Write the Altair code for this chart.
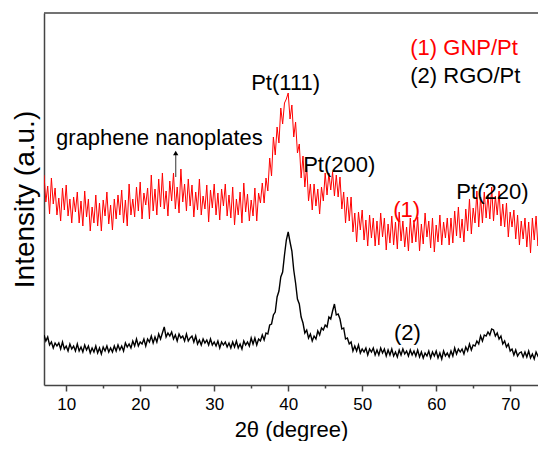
import altair as alt
import pandas as pd

# Intensity (a.u.) sampled every 0.25 degree from 7.00 to 74.75
gnp_pt = [
    210, 183, 199, 171, 207, 181, 197, 170, 187, 164, 197, 175, 200, 169, 186, 162, 188, 173, 193, 162,
    184, 159, 194, 168, 186, 154, 178, 162, 190, 159, 182, 154, 185, 169, 193, 161, 180, 155, 186, 166,
    190, 170, 195, 162, 185, 159, 201, 170, 186, 168, 198, 174, 203, 166, 192, 180, 197, 166, 210, 174,
    196, 170, 206, 178, 212, 176, 194, 169, 204, 184, 212, 176, 198, 172, 216, 183, 201, 174, 206, 179,
    200, 168, 193, 175, 206, 170, 189, 176, 200, 163, 195, 177, 201, 170, 192, 165, 196, 179, 201, 169,
    190, 167, 198, 160, 186, 170, 193, 162, 202, 173, 191, 164, 185, 169, 197, 164, 192, 182, 202, 182,
    207, 194, 227, 209, 248, 230, 258, 242, 277, 261, 282, 286, 292, 266, 280, 248, 263, 232, 241, 207,
    229, 198, 219, 184, 201, 175, 201, 179, 196, 171, 198, 184, 212, 190, 212, 195, 213, 189, 210, 188,
    208, 176, 193, 162, 188, 164, 188, 153, 172, 143, 173, 155, 175, 145, 165, 139, 170, 147, 167, 139,
    164, 140, 172, 148, 167, 135, 161, 142, 169, 140, 163, 136, 173, 144, 164, 138, 158, 134, 167, 142,
    165, 143, 168, 134, 161, 141, 172, 148, 164, 137, 167, 133, 160, 143, 170, 140, 163, 147, 167, 140,
    167, 142, 174, 149, 178, 147, 166, 143, 176, 154, 186, 151, 177, 162, 194, 158, 188, 162, 193, 167,
    190, 166, 198, 164, 189, 170, 194, 159, 181, 158, 182, 148, 173, 158, 175, 146, 170, 140, 164, 146,
    167, 138, 163, 132, 167, 145, 169, 139, 159, 137, 162, 149,
]
rgo_pt = [
    50, 44, 48, 40, 43, 37, 42, 39, 42, 36, 43, 36, 39, 34, 41, 36, 39, 34, 41, 34,
    38, 33, 40, 35, 39, 32, 37, 33, 39, 32, 37, 31, 38, 34, 39, 33, 37, 33, 39, 34,
    40, 35, 39, 34, 42, 38, 41, 37, 44, 39, 46, 39, 43, 41, 46, 39, 46, 43, 49, 42,
    48, 43, 51, 46, 52, 58, 48, 52, 49, 53, 46, 50, 44, 51, 47, 49, 44, 51, 44, 47,
    49, 43, 49, 41, 45, 40, 46, 42, 45, 40, 46, 40, 43, 39, 44, 37, 43, 40, 43, 38,
    42, 37, 43, 38, 44, 37, 41, 36, 44, 40, 43, 39, 47, 41, 47, 40, 46, 44, 50, 45,
    52, 51, 60, 61, 70, 73, 88, 94, 108, 113, 130, 145, 153, 143, 134, 115, 102, 86, 81, 68,
    62, 52, 55, 47, 51, 44, 49, 46, 54, 50, 57, 55, 60, 58, 68, 66, 74, 81, 70, 71,
    66, 56, 57, 46, 47, 41, 43, 34, 39, 34, 40, 32, 36, 33, 37, 30, 36, 33, 37, 30,
    35, 30, 37, 32, 36, 29, 35, 30, 36, 29, 33, 28, 35, 30, 36, 31, 34, 29, 35, 30,
    34, 29, 35, 28, 33, 27, 32, 29, 34, 27, 33, 29, 34, 27, 32, 26, 34, 29, 32, 28,
    34, 29, 37, 31, 36, 33, 36, 31, 38, 34, 41, 35, 40, 39, 44, 41, 49, 44, 50, 49,
    53, 50, 56, 55, 49, 52, 46, 49, 41, 44, 38, 41, 34, 36, 30, 35, 29, 32, 33, 28,
    33, 28, 34, 27, 31, 26, 33, 29, 32, 27, 34, 29,
]
two_theta = [round(7 + 0.25 * i, 2) for i in range(len(gnp_pt))]

x_ticks = [10, 15, 20, 25, 30, 35, 40, 45, 50, 55, 60, 65, 70]

# annotations
legend_text = ["(1) GNP/Pt", "(2) RGO/Pt"]
legend_x = [56.5, 56.5]
legend_y = [337, 309]
legend_color = ["#ff0000", "#000000"]

note_text = ["Pt(111)", "graphene nanoplates", "Pt(200)", "Pt(220)", "(1)", "(2)"]
note_x = [39.65, 22.6, 46.9, 67.6, 56.0, 56.1]
note_y = [302, 247, 220, 193, 175, 52]
note_color = ["#000000", "#000000", "#000000", "#000000", "#ff0000", "#000000"]

arrow_x = [24.8]
arrow_y = [208]
arrow_y2 = [232]

FONT = "Liberation Sans"

df = pd.DataFrame({
    "two_theta": two_theta * 2,
    "intensity": gnp_pt + rgo_pt,
    "sample": ["(1) GNP/Pt"] * len(gnp_pt) + ["(2) RGO/Pt"] * len(rgo_pt),
})
legend_df = pd.DataFrame({"x": legend_x, "y": legend_y, "text": legend_text, "color": legend_color})
note_df = pd.DataFrame({"x": note_x, "y": note_y, "text": note_text, "color": note_color})
arrow_df = pd.DataFrame({"x": arrow_x, "y": arrow_y, "y2": arrow_y2})
frame_df = pd.DataFrame({"edge": ["top"]})

xscale = alt.Scale(domain=[7, 73.76], nice=False, zero=False)
yscale = alt.Scale(domain=[0, 372], nice=False, zero=False)

lines = alt.Chart(df).mark_line(interpolate="linear", clip=True).encode(
    x=alt.X("two_theta:Q", scale=xscale,
            axis=alt.Axis(values=x_ticks, grid=False, title="2θ (degree)",
                          labelExpr="datum.value % 10 === 0 ? datum.label : ''",
                          tickSize=6,
                          tickDash={"condition": {"test": "datum.value % 10 !== 0", "value": [3, 10]},
                                    "value": [6, 0]},
                          labelFontSize=17, labelPadding=5,
                          titleFontSize=22, titleY=51, titleBaseline="alphabetic")),
    y=alt.Y("intensity:Q", scale=yscale,
            axis=alt.Axis(labels=False, ticks=False, grid=False, title="Intensity (a.u.)",
                          titleFontSize=28, titlePadding=5)),
    color=alt.Color("sample:N", scale=alt.Scale(domain=["(1) GNP/Pt", "(2) RGO/Pt"],
                                                range=["#ff0000", "#000000"]), legend=None),
    strokeWidth=alt.StrokeWidth("sample:N", scale=alt.Scale(domain=["(1) GNP/Pt", "(2) RGO/Pt"],
                                                            range=[1.0, 1.4]), legend=None),
    detail="sample:N",
)

top_border = alt.Chart(frame_df).mark_rule(color="#444444", strokeWidth=1.5).encode(
    y=alt.value(0),
)

legend_layer = alt.Chart(legend_df).mark_text(align="left", baseline="middle", fontSize=22, font=FONT).encode(
    x=alt.X("x:Q", scale=xscale),
    y=alt.Y("y:Q", scale=yscale),
    text="text:N",
    color=alt.Color("color:N", scale=None),
)

notes = alt.Chart(note_df).mark_text(align="center", baseline="middle", fontSize=22, font=FONT).encode(
    x=alt.X("x:Q", scale=xscale),
    y=alt.Y("y:Q", scale=yscale),
    text="text:N",
    color=alt.Color("color:N", scale=None),
)

arrow_shaft = alt.Chart(arrow_df).mark_rule(color="#555555", strokeWidth=1.2).encode(
    x=alt.X("x:Q", scale=xscale),
    y=alt.Y("y:Q", scale=yscale),
    y2="y2:Q",
)
arrow_head = alt.Chart(arrow_df).mark_point(shape="triangle-up", filled=True, color="#000000",
                                             size=28, opacity=1).encode(
    x=alt.X("x:Q", scale=xscale),
    y=alt.Y("y2:Q", scale=yscale),
)

chart = alt.layer(lines, top_border, legend_layer, notes, arrow_shaft, arrow_head).properties(
    width=494,
    height=372,
    autosize=alt.AutoSizeParams(type="none"),
    padding={"left": 36, "top": 5, "right": 0, "bottom": 56},
).configure_view(stroke=None).configure_axis(
    domainColor="#444444", domainWidth=1.5, tickColor="#444444", tickWidth=1.5,
    labelFont=FONT, titleFont=FONT, labelColor="#000000", titleColor="#000000",
    titleFontWeight="normal",
)

chart.save("out.html", embed_options={"renderer": "svg", "actions": False})
